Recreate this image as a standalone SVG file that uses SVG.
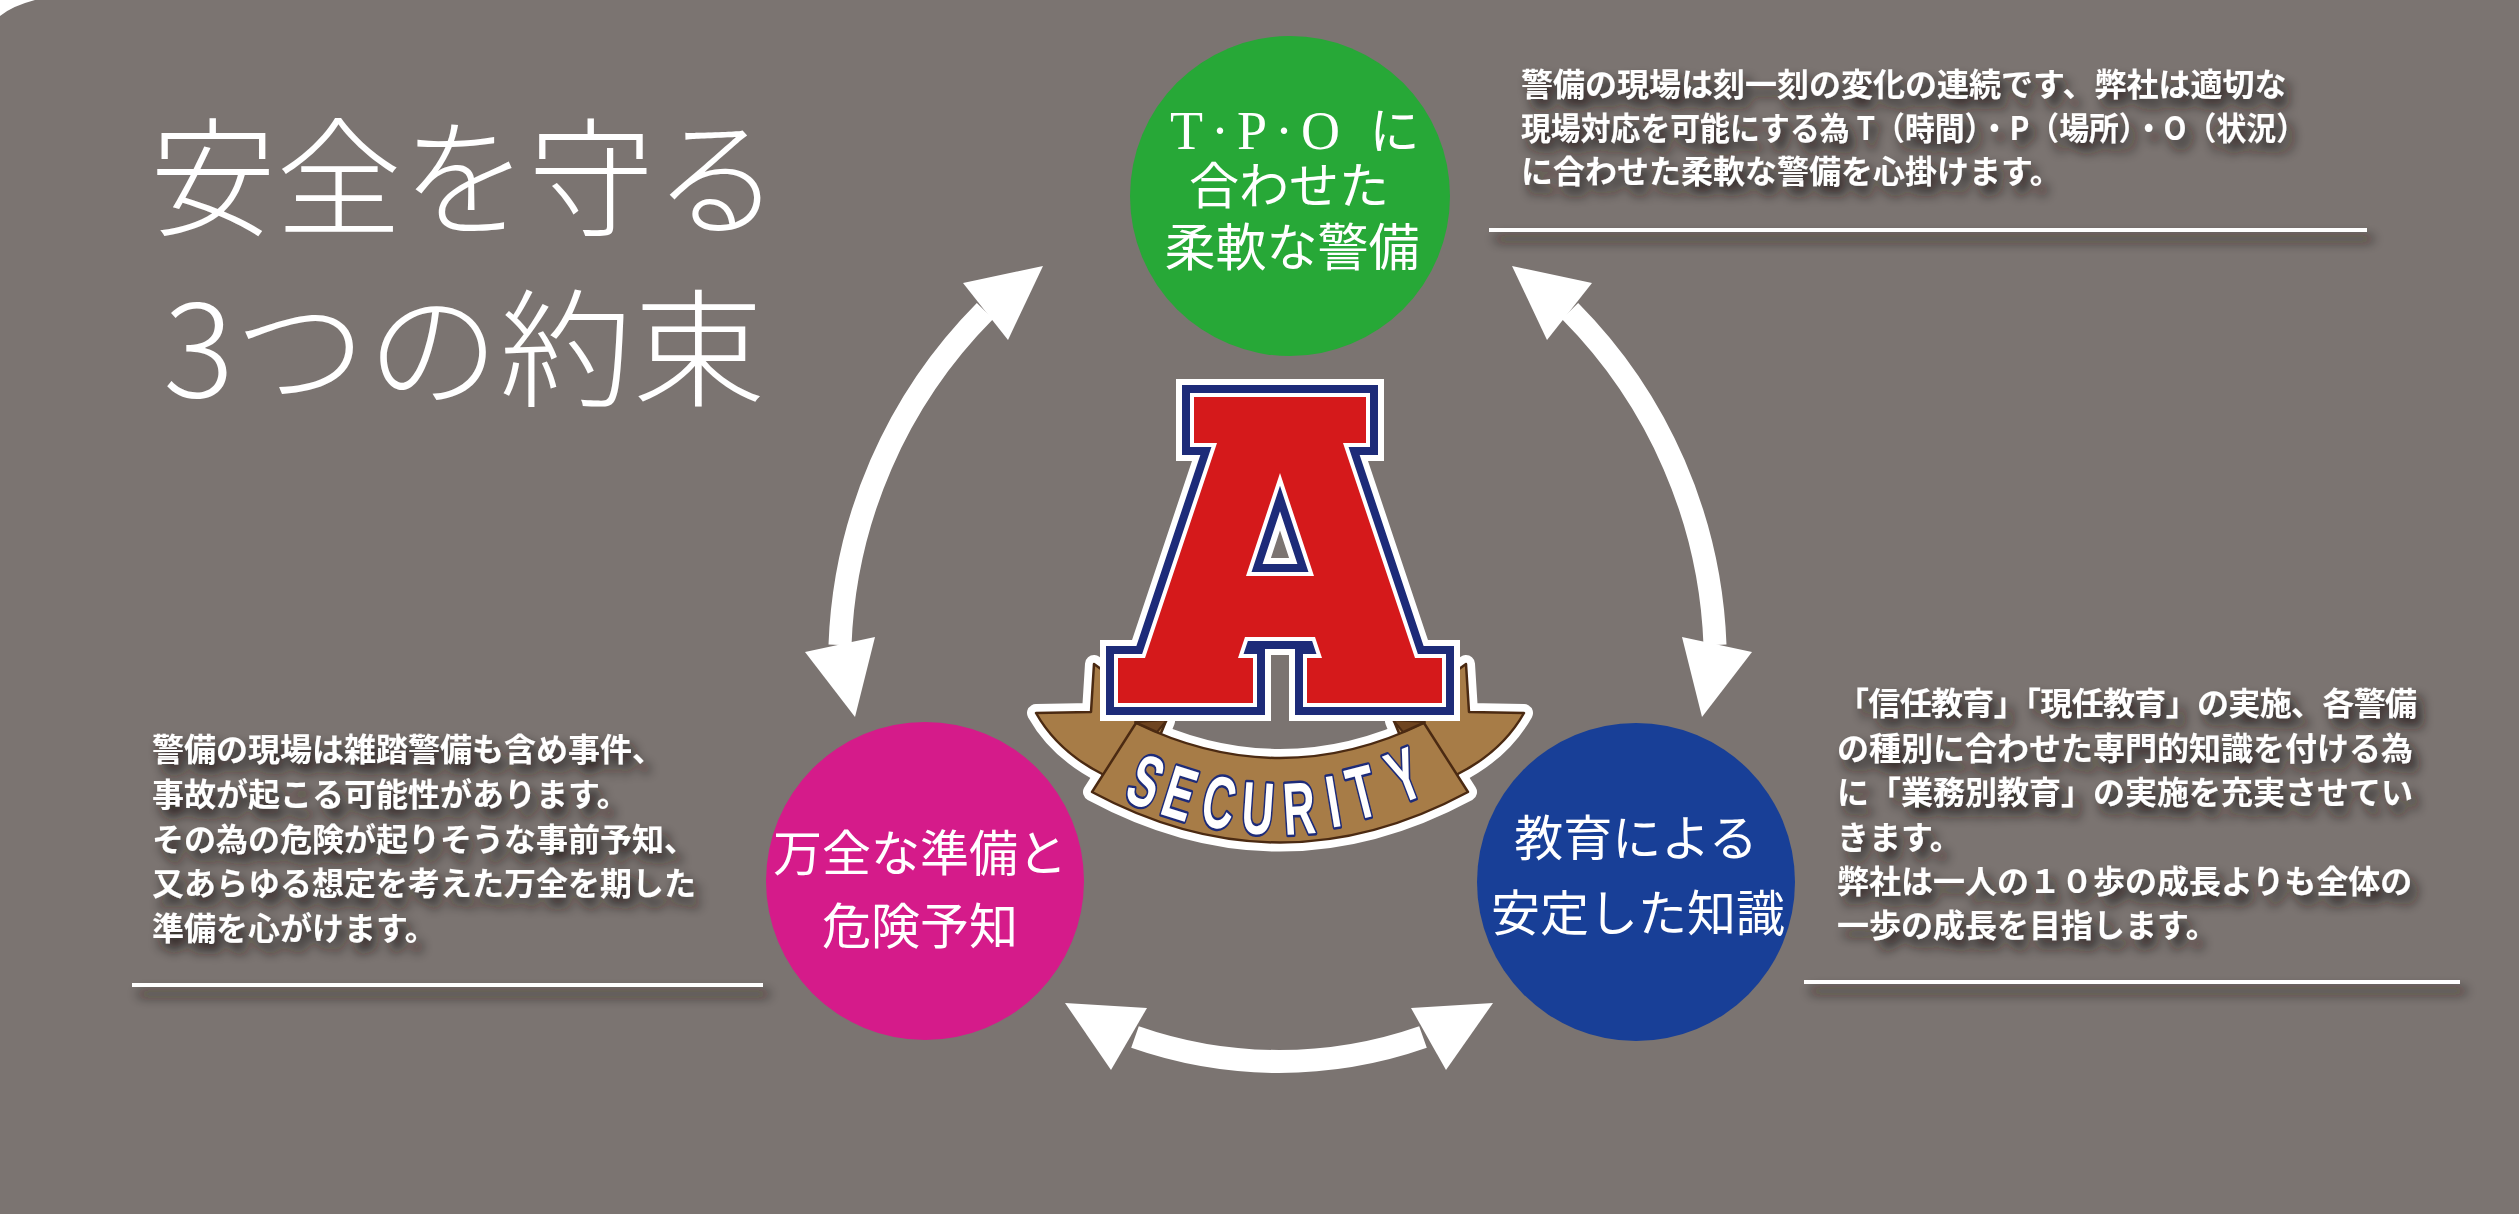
<svg xmlns="http://www.w3.org/2000/svg" width="2519" height="1214" viewBox="0 0 2519 1214">
<defs>
<style>
.para{font-family:"Noto Sans CJK JP","Noto Sans CJK SC",sans-serif;font-weight:700;font-size:32px;fill:#fff}
.title{font-family:"Noto Sans CJK JP","Noto Sans CJK SC",serif;font-weight:300;font-size:128px;fill:#fff}
.ctext{font-family:"Noto Sans CJK JP","Noto Sans CJK SC",sans-serif;font-weight:400;fill:#fff;text-anchor:middle}
.rule{stroke:#fff;stroke-width:4}
.shaft{fill:none;stroke:#fff;stroke-width:23}
.head{fill:#fff}
.sec{font-family:"Liberation Sans",Arial,sans-serif;font-weight:700;font-size:74px;fill:#fff;stroke:#1d2b79;stroke-width:5;paint-order:stroke;stroke-linejoin:round;text-anchor:middle}
.rib{fill:#a77c47;stroke:#4b2a12;stroke-width:2.5;stroke-linejoin:round}
.ribbg{fill:#fff;stroke:#fff;stroke-width:18;stroke-linejoin:round}
.fold{fill:#6e4420;stroke:#4b2a12;stroke-width:2;stroke-linejoin:round}
</style>
<filter id="shadow" x="-5%" y="-40%" width="115%" height="200%">
<feGaussianBlur in="SourceAlpha" stdDeviation="6"/>
<feOffset dx="6" dy="9" result="b"/>
<feFlood flood-color="#1e1816" flood-opacity="0.95"/>
<feComposite in2="b" operator="in"/>
<feMerge><feMergeNode/><feMergeNode in="SourceGraphic"/></feMerge>
</filter>
<path id="Ashape" fill-rule="evenodd" d="M1194,397 L1366,397 L1366,443 L1343,443 L1415,658 L1442,658 L1442,703 L1307,703 L1307,658 L1322,658 L1315,637 L1245,637 L1238,658 L1253,658 L1253,703 L1118,703 L1118,658 L1145,658 L1217,443 L1194,443 Z M1280,473 L1314,576 L1246,576 Z"/>
</defs>

<rect x="0" y="0" width="2519" height="1214" fill="#7b7471"/>
<path d="M0,0 L35,0 Q12,6 0,16 Z" fill="#fff"/>

<g id="title">
<text class="title" x="150" y="226" textLength="630" lengthAdjust="spacingAndGlyphs">安全を守る</text>
<text class="title" x="163" y="397" textLength="602" lengthAdjust="spacingAndGlyphs">3つの約束</text>
</g>

<g id="connectors">
<path class="shaft" d="M985,311 A500,500 0 0 0 840,645"/>
<polygon class="head" points="1043,266 963,283 1008,340"/>
<polygon class="head" points="855,717 805,652 875,637"/>
<path class="shaft" d="M1570,311 A500,500 0 0 1 1715,645"/>
<polygon class="head" points="1512,266 1592,283 1547,340"/>
<polygon class="head" points="1702,717 1682,637 1752,652"/>
<path class="shaft" d="M1135,1037 A436,436 0 0 0 1423,1037"/>
<polygon class="head" points="1065,1003 1147,1008 1111,1070"/>
<polygon class="head" points="1493,1003 1411,1008 1446,1070"/>
</g>

<g id="node-tpo">
<circle cx="1290" cy="196" r="160" fill="#27a837"/>
<text class="ctext" font-size="50"><tspan x="1170" y="149" style="text-anchor:start"><tspan font-family="Liberation Serif" font-size="54" letter-spacing="8">T·P·O </tspan>に</tspan><tspan x="1289" y="204">合わせた</tspan><tspan x="1292" y="266" font-size="51">柔軟な警備</tspan></text>
</g>

<g id="node-prep">
<circle cx="925" cy="881" r="159" fill="#d51b8a"/>
<text class="ctext" font-size="49"><tspan x="920" y="871">万全な準備と</tspan><tspan x="920" y="944">危険予知</tspan></text>
</g>

<g id="node-edu">
<circle cx="1636" cy="882" r="159" fill="#183f97"/>
<text class="ctext" font-size="49"><tspan x="1636" y="856">教育による</tspan><tspan x="1638" y="931">安定した知識</tspan></text>
</g>

<g id="logo">
<path class="ribbg" d="M1036,713 L1091,712 L1094,664 L1130,690 L1166,721 L1150,760 L1104,775 Q1058,752 1036,713 Z"/>
<path class="ribbg" d="M1524,713 L1469,712 L1466,664 L1430,690 L1394,721 L1410,760 L1456,775 Q1502,752 1524,713 Z"/>
<path class="ribbg" d="M1136,723 Q1280,793 1424,723 L1468,792 Q1280,893 1092,792 Z"/>
<path class="rib" d="M1036,713 L1091,712 L1094,664 L1130,690 L1166,721 L1150,760 L1104,775 Q1058,752 1036,713 Z"/>
<path class="rib" d="M1524,713 L1469,712 L1466,664 L1430,690 L1394,721 L1410,760 L1456,775 Q1502,752 1524,713 Z"/>
<path class="rib" d="M1136,723 Q1280,793 1424,723 L1468,792 Q1280,893 1092,792 Z"/>
<polygon class="fold" points="1135,722 1167,720 1157,732"/>
<polygon class="fold" points="1425,722 1393,720 1403,732"/>
<use href="#Ashape" fill="none" stroke="#fff" stroke-width="36" stroke-linejoin="miter"/>
<use href="#Ashape" fill="none" stroke="#1d2b79" stroke-width="24" stroke-linejoin="miter"/>
<use href="#Ashape" fill="none" stroke="#fff" stroke-width="8" stroke-linejoin="miter"/>
<use href="#Ashape" fill="#d5191b" stroke="none"/>
<g transform="translate(1146,781) rotate(22.7) scale(0.6,1)"><text class="sec" x="0" y="26">S</text></g>
<g transform="translate(1180,793) rotate(17.5) scale(0.6,1)"><text class="sec" x="0" y="26">E</text></g>
<g transform="translate(1219,802) rotate(10.8) scale(0.6,1)"><text class="sec" x="0" y="26">C</text></g>
<g transform="translate(1258,808) rotate(3.9) scale(0.6,1)"><text class="sec" x="0" y="26">U</text></g>
<g transform="translate(1299,808) rotate(-3.6) scale(0.6,1)"><text class="sec" x="0" y="26">R</text></g>
<g transform="translate(1333,801) rotate(-9.4) scale(0.6,1)"><text class="sec" x="0" y="26">I</text></g>
<g transform="translate(1362,792) rotate(-14.2) scale(0.6,1)"><text class="sec" x="0" y="26">T</text></g>
<g transform="translate(1404,775) rotate(-21.2) scale(0.6,1)"><text class="sec" x="0" y="26">Y</text></g>
</g>

<g id="text-top" filter="url(#shadow)">
<text class="para" x="1521" y="96">警備の現場は刻一刻の変化の連続です、弊社は適切な</text>
<text class="para" x="1521" y="140" textLength="785" lengthAdjust="spacingAndGlyphs">現場対応を可能にする為 T（時間）・P（場所）・O（状況）</text>
<text class="para" x="1521" y="183">に合わせた柔軟な警備を心掛けます。</text>
<line class="rule" x1="1489" y1="230" x2="2367" y2="230"/>
</g>

<g id="text-left" filter="url(#shadow)">
<text class="para" x="152" y="761">警備の現場は雑踏警備も含め事件、</text>
<text class="para" x="152" y="806">事故が起こる可能性があります。</text>
<text class="para" x="152" y="851">その為の危険が起りそうな事前予知、</text>
<text class="para" x="152" y="895">又あらゆる想定を考えた万全を期した</text>
<text class="para" x="152" y="940">準備を心がけます。</text>
<line class="rule" x1="132" y1="985" x2="763" y2="985"/>
</g>

<g id="text-right" filter="url(#shadow)">
<text class="para" x="1837" y="715" textLength="580" lengthAdjust="spacing">「信任教育」「現任教育」の実施、各警備</text>
<text class="para" x="1837" y="760">の種別に合わせた専門的知識を付ける為</text>
<text class="para" x="1837" y="804">に「業務別教育」の実施を充実させてい</text>
<text class="para" x="1837" y="849">きます。</text>
<text class="para" x="1837" y="893">弊社は一人の１０歩の成長よりも全体の</text>
<text class="para" x="1837" y="937">一歩の成長を目指します。</text>
<line class="rule" x1="1804" y1="982" x2="2460" y2="982"/>
</g>
</svg>
